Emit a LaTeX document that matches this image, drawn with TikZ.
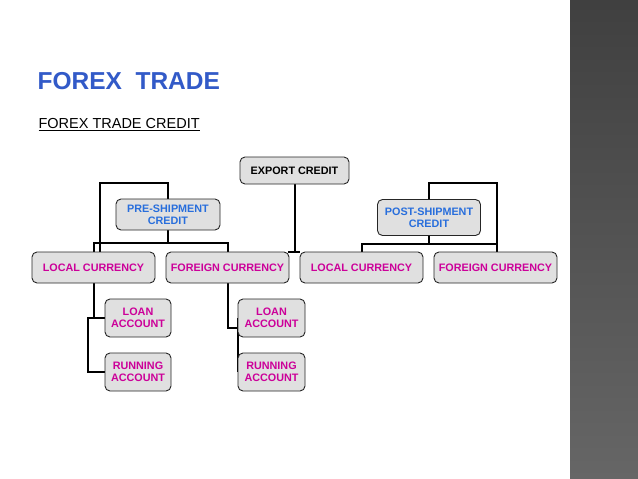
\documentclass[tikz,border=0pt]{standalone}
\usepackage{fontspec}
\setmainfont{Liberation Sans}
\begin{document}
\begin{tikzpicture}[x=1pt,y=-1pt,
  box/.style={draw=black!85,fill=black!12,rounded corners=5pt,line width=0.9pt,font=\bfseries\fontsize{10.8}{12.2}\selectfont,align=center,inner sep=0pt},
  pink/.style={text={rgb,255:red,204;green,0;blue,153}},
  blu/.style={text={rgb,255:red,40;green,110;blue,220}},
  ln/.style={line width=2pt}]
\useasboundingbox (0,0) rectangle (638,479);
\fill[white] (0,0) rectangle (638,479);
\shade[top color=black!75,bottom color=black!60] (570,0) rectangle (638,479);
\begin{scope}
\draw[ln] (295,184) -- (295,251.5);
\draw[ln] (288,251.5) -- (300,251.5);
\draw[ln] (100,252) -- (100,183) -- (168,183) -- (168,199);
\draw[ln] (168,230) -- (168,243);
\draw[ln] (94,252) -- (94,243) -- (228,243) -- (228,252);
\draw[ln] (94,283) -- (94,318) -- (105,318);
\draw[ln] (94,318) -- (88,318) -- (88,372) -- (105,372);
\draw[ln] (228,283) -- (228,328) -- (238,328);
\draw[ln] (238,318) -- (238,372);
\draw[ln] (497,252) -- (497,183) -- (429,183) -- (429,199);
\draw[ln] (429,236) -- (429,244);
\draw[ln] (362,252) -- (362,244) -- (497,244) -- (497,252);
\end{scope}
\node[anchor=west,font=\bfseries\fontsize{24.5}{28}\selectfont,text={rgb,255:red,50;green,90;blue,200}] (title) at (34,81) {FOREX\ \ TRADE};
\node[anchor=west,font=\fontsize{14.5}{16}\selectfont] (sub) at (35,125) {\underline{FOREX TRADE CREDIT}};
\node[box,minimum width=109,minimum height=27] (exp) at (294.5,170.5) {EXPORT CREDIT};
\node[box,blu,minimum width=104,minimum height=31] (pre) at (168,214.5) {PRE-SHIPMENT\\CREDIT};
\node[box,blu,minimum width=103,minimum height=36] (post) at (429,217.5) {POST-SHIPMENT\\CREDIT};
\node[box,pink,minimum width=123,minimum height=31] (lc1) at (93.5,267.5) {LOCAL CURRENCY};
\node[box,pink,minimum width=123,minimum height=31] (fc1) at (227.5,267.5) {FOREIGN CURRENCY};
\node[box,pink,minimum width=123,minimum height=31] (lc2) at (361.5,267.5) {LOCAL CURRENCY};
\node[box,pink,minimum width=123,minimum height=31] (fc2) at (495.5,267.5) {FOREIGN CURRENCY};
\node[box,pink,minimum width=66,minimum height=38] (la1) at (138,318) {LOAN\\ACCOUNT};
\node[box,pink,minimum width=66,minimum height=38] (ra1) at (138,372) {RUNNING\\ACCOUNT};
\node[box,pink,minimum width=67,minimum height=38] (la2) at (271.5,318) {LOAN\\ACCOUNT};
\node[box,pink,minimum width=67,minimum height=38] (ra2) at (271.5,372) {RUNNING\\ACCOUNT};
\end{tikzpicture}
\end{document}
